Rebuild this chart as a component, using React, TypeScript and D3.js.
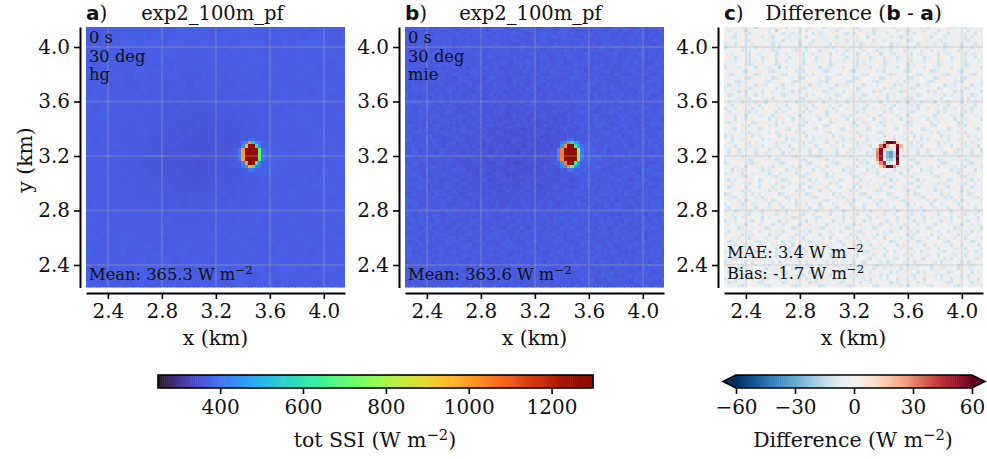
import * as d3 from 'd3';
import { FC, useEffect, useRef } from 'react';

const serif = '"DejaVu Serif", serif';
const sans = '"DejaVu Sans", sans-serif';

const xTicks = [2.4, 2.8, 3.2, 3.6, 4.0];
const yTicks = [2.4, 2.8, 3.2, 3.6, 4.0];
const ssiTicks = [400, 600, 800, 1000, 1200];
const diffTicks = [-60, -30, 0, 30, 60];
const panelLefts = [86, 405, 724];
const cellKm = 0.025;
const xStart = 2.2375;
const yStart = 4.16;

// background of panel a, two cells per character: 340 + 4 * digit (W m-2)
// the dip and the glow are estimated from the picture, the speckle is only approximate
const ssiRows = [
  '667665766667567666756667666576667566766',
  '756667666576667666567667656667665766657',
  '666576766665676656667566676657666766566',
  '675666656766667567665676665667576666756',
  '666766575666766656667566766756665767666',
  '656667666656566576666656676666567666576',
  '766565666576565656656667565676666756667',
  '665676566565665556565666675666576666566',
  '666566556655556465565566566766656676666',
  '576665656555565555655566656657666566765',
  '665666565565555455545655666566676667566',
  '666756555655545454555565566676566766656',
  '656665655555454544445455566656676656667',
  '667566565555544444344455556665667666576',
  '665656555554544343434445556666567656667',
  '666565556544443433334445456666666766566',
  '656655555444434333333344555666665676667',
  '666565555443443332333345677766666566766',
  '665556554444333323233456788876566675666',
  '656565544443433232333456899986566656667',
  '665655554444333323333456788876566666576',
  '666556555444343333334445677765666757666',
  '656565555544433333344445556666667566656',
  '666655655454443434344455556666566676667',
  '566566555554544444445455566566766656766',
  '665665655555454545454555565676656667566',
  '676566556555554554555655666656676566676',
  '656665665655555555565556566766565676656',
  '766566656565655556556566675666766656667',
  '666756565665565656565666656657666567666',
  '656667656656666565666566766666576666756',
  '675666766565666656665676566756667656667',
  '666567666756566766656667666576656766566',
  '756667566676667566765666756667666567676',
  '666756676566656676566675666766576676566',
  '667566567666756666676566676566667566767',
  '756676666576667656667666567667656676656',
  '665667567666566766575676666756667665767',
  '676566676656676566666567576666566766666',
];

// speckle of the difference, hand-typed to match its look and spread (see diffLevels),
// not a cell-by-cell reading of the picture
const diffRows = [
  'ehdfgciefadhgecfidbgfeiedchfgbdeifcghedbfgiecdfehcbgifdehgcdbfieghdcefgbidhef',
  'gcifedbhgeifdcgaehfdigcebfhidegcfbehgidfcehgbdfieghcdebifgdcehfbgicedhgfbecid',
  'dfhcegibdgefhcdiebgfcedhigbfcdehifgdbechgifdbgehcifegdchbeifgdcfhebgidfcehbgf',
  'ifcbehdgfiecgdbhfeicgdehbfgidcehfbgeidhcfgbeidfhgcedbifchegdibfhecgdfiebhcgde',
  'ehgdifcbehfgdicehbgfdecihgbefdcgihedbfgcihefbdgcehifdgbcehfidgecbhifgdecbfihg',
  'cdfbigehcfdiegbhcfidegbhfcdiegfbhcgidefhbcgdifehgbdcifehgbdfiecghbdfeicghdbfe',
  'bigehcdfgbihedcfbgiedchfbigdhecfbgidhcefbgihdecfgbidhecfbgidchefgbdihecfgbide',
  'fehdgbicefhdgibcefhgdbiecfhgbdiefchgbdeifchgdbeifchdgbeifhcdgbeifchdgbiechfdg',
  'gdceifhbgdcfeihbdgcefihbgdcfeihbgdecfihbdgcefibhgdcefihbgdcefhibgdcfeihbgdcef',
  'hifbdegcihfbdgecifhbdegcfihbdegcifhdbegcifhbdgecifhbdegcihfbdegcifhbdgecifbhd',
  'edgcfhibedgcfihbedcgfihbegdcfihbedgcifhbedgcfihbdegcfhibedgcfihbedgcifhbedgcf',
  'cfieghdbcfiehgdbcfiegdhbcfigehdbcfiehgdbfcieghdbcfiehgbdcfieghdbcifehgdbcfieg',
  'bhgdcieffbhgdcieafbhdgcieffhbgdcefibhgdcifebhgdciefbhgcdiefbhgdcifebhgdcieffb',
  'gefihcbdgeifhcbdgefihcdbgeifhcbdegfihcbdgefihcdbgeifhcbdgefihbcdgefihcbdegfih',
  'dcbgfiehdbcgfeihdcbgfiehcdbgifehdcbgfiehdcbfgiehdbcgfiehdcbgfeihdcbgifehdcbgf',
  'ifhedgcbifehdgbcifhedgcbfihedgbcifhdegcbifhedgbcfihedgcbifhdegbcifhedgcbfihed',
  'hegcbdfihegecbdfihgecbdfihegcdbfiehgcbdfihegcbdfihecgbdfiehgcbdfihegcdbfihegc',
  'fbidcghefbidchgefbdicghefbidcgehfbidchgefbidgchefibdcghefbidchgefbidcghefbdic',
  'cgdefihbcgedfihbgcdefhibcgdefihbcgedifhbcgdefihbgcdeifhbcgdefihbcgedfhibcgdef',
  'dehfbicgdehbficgedhfbicgdehfibcgdehbfigcdehfbicgedhfbcigdehfbicgdhefbicgdehfb',
  'ibcgehdfibgcehdfibcgedhfbicgehdfibcghedfibcgehdfbicgehfdibcgehdfibgcehdfibce',
  'gfhdciebgfhdcibegfhdiecbgfhdciebefghdciebgfdhciebgfhdcibegfhdciebgfhdicebgfhd',
  'ecifgbhdecifbghdeicfgbhdecifgbdhecifbghdeciffgbhdeicfgbhdecifgbhedcifgbhdecif',
  'hdbgeifchdbegifchdbgeficdhbgeifchdbegifchdbgefichdbgeifchbdgeifchdbegifchdbge',
  'bgfchdiebfgchdiebgfcdhiebgfchidebegfchdiebfgchdiebgfcdhiebgfchdiebfgchdiebegfc',
  'fcegihdbfcgeihdbfcegidhbfcegihbdfcgeihdbfcegidhbfcegihdbcfegihdbfcgeihdbfcegih',
  'ihdcfebgihcdfebgihdcefbgidhcfebgihdcfbegihcdfebgihdcefbgihdcfebighdcfebgihcdfe',
  'degbhfcidegehbfcidgebhfcidegbfhcidegbhfcdiegbhfcidgebhfcidegbhcfidegbhfcdiegbh',
  'cbfdieghbcfdiegbhcfdiegcbfdiehgbcfdiegbhfcdiegbcfdieghbcfdigebhcfdiegbcfdiehg',
  'gidehcfbgiedhcfbgidehfcbgidehcbfgiedhcfbgidehcfbigdehcfbgiedhcbfgidehcfbgidhe',
  'ehcbgdifehbcgdifehcbgidfehcbgdifhecbgdifehbcgdfiehcbgdifehcbdgifehbcgdifehcbg',
  'fdgihcebfdighcebdfgihcebfdgihecbfdighcebfdgihcbefdgihcebdfgihcebfdighcebfdgih',
  'bechdfgibecdhfgibechdgfibechdfigbecdhfgibechdfgbiechdfgibechfdgibecdhfgibechd',
  'igbfecdhigfbecdhigbfcedhigbfedchigfbecdhigbfecdhgibfecdhigbfcedhigbfecdhigfbe',
  'hcdegfibhcedgfibhcdgefibhcdegfbihcedgfibhcdegfibchdegfibhcdefgibhcedgfibhcdeg',
  'dfibghecdifbghecdfibhgecdfibgehcdifbghecdfibghcedfibghecdfbighecdifbghecdfibg',
  'ecghbidfecghibdfceghbidfecghbdifecghibdfceghbidfecgbhidfecghbidfceghibdfecghb',
  'fbhicdgefbihcdgefbhcidgefbhicgdefbihcdgefhbicdgefbhicdegfbhicdgefbihcdgefbhic',
  'gidcebhfgdicebhfgidecbhfgidcbehfgdicebhfigdcebhfgidcebfhgidcebhfgdicebhfgidce',
  'chefdigbcehfdigbchefidgbchefdibgcehfdigbhcefdigbchefdgibchefdigbcehfdigbchefd',
  'bdgihfecbdighefecbdghifecbdgihefcbdighfecdbgihfecbdgihefcbdgihfecbdighfecbdgi',
  'iefcdgbhiefcgdbhiefdcgbhiefcdgbhefiecdgbhiefcdbghiefcdgbhiefdcgbhiefcgdbhiefc',
  'hgbedcifhgebdcifhgbdecifhgbedcfihgebdcifghbedcifhgbedicfhgbedcifhgebdcifhgbed',
  'cdihfbegcidhfbegcdhifbegcdihfebgcidhfbegdcihfbegcdihbfegcdihfbegcidhfbegcdihf',
  'fehgicbdfhegeicbdfehigcbdfehgibcdfhegicbdefhgicbdfehgcibdfehgicbdfhegicbdfehg',
  'dbfcgehidfbcgehidbcfgehidbfcgheidfbcgehibdfcgehidbfcgeihdbfcgehidfbcgehidbfcg',
  'igchedfbigcehdfbighcedfbigchdefbicgehdfbgichedfbigchefdbigchedfbicgehdfbigche',
  'ebdfihcgedbfihcgebdifhcgebdfhicgedbfihcgbedfihcgebdfichgebdfihcgedbfihcgebdfi',
  'ghfedbicghefdbicghfdebicghfebdicgehfdbicghfedbciighfedbicghfdebicghefdbicghfe',
  'bcigfdehbicgfdehbcgifdehbcigdfehbicgfdehcbigfdehbcigfedhbcigfdehbicgfdehbcigf',
  'hdcbeifghcdbeifghdbceifghdcbifeghcdbeifgdhcbeifghdcbeigfhdcbeifghcdbeifghdcbe',
  'fiehcgbdfeihcgbdfiecgbhdfiehgcbdfeihcgbdifehcgbdfiehcbgdfiehcgbdfeihcgbdfiehc',
  'cgdifbehcdgifbehcgidfbehcgdibfehcdgifbehgcdifbehcgdifebhcgdifbehcdgifbehcgdif',
  'ebhgdcifebghdcifebhdgcifebhgcdifebeghdcifbehgdcifebhgdicfebhgdcifebghdcifebhg',
  'dfgbiehcdgfbiehcdfbgiehcdfgbeihcdgfbiehcfdgbiehcdfgbihecdfgbiehcdgfbiehcdfgbi',
  'ihcefgdbihecfgdbihcfegdbihcegfdbiehcfgdbhicefgdbihcefdgbihcefgdbihecfgdbihcef',
  'gedbhcifgdebhcifgedhbcifgedbchifgdebhcifegdbhcifgedbhicfgedbhcifgdebhcifgedbh',
  'bfichgedbifchgedbfcihgedbfichegdbifchgedfbichgedbfichegdbfichgedbifchgedbfich',
  'hcgdfebihgcdfebihcdgfebihcgdefbihgcdfebichgdfebihcgdfbeihcgdfebihgcdfebihcgdf',
  'diefbchgdeifbchgdifebchgdiefcbhgdeifbchgidefbchgdiefbhcgdiefbchgdeifbchgdiefb',
  'fbhdgiecfhbdgiecfbdhgiecfbhdigecfhbdgiecbfhdgiecfbhdgeicfbhdgiecfhbdgiecfbhdg',
  'cegihbfdcgeihbfdcegihbdfcegibhfdcgeihbfdecgihbfdcegihfbdcegihbfdcgeihbfdcegih',
  'ihdfcegbidhfcegbihfdcegbihdfecgbidhfcegbhidfcegbihdfcgebihdfcegbidhfcegbihdfc',
  'gbcehdifgcbehdifgbecdhifgbcedhifgcbehdifbgcehdifgbcehidfgbcehdifgcbehdifgbceh',
  'defbigchdfebigchdefibgchdefbgichdfebigchedfbigchdefbicghdefbigchdfebigchdefbi',
  'hifgcdebhfigcdebhifcgdebhifgdcebhfigcdebihfgcdebhifgcedbhifgcdebhfigcdebhifgc',
  'cgbdeihfcbgdeihfcgdbeihfcgbdiehfcbgdeihfgcbdeihfcgbdehifcgbdeihfcbgdeihfcgbde',
  'ehdicfgbehidcfgbehidfcgbehdicgfbheidcfgbhedicfgbehdifcgbehdicfgbheidcfgbehdic',
  'fgcbhdeifcgbhdeifgbchdeifgcbdheifcgbhdeigfcbhdeifgcbhedifgcbhdeifcgbhdeifgcbh',
  'bdiegfchbidegfchbdeigfchbdiefgchbidegfchdbiegfchbdiegcfhbdiegfchbidegfchbdieg',
  'icfhdbegicfdhbegifchdbegicfhbdegicfdhbegcifhdbegicfhdebgicfhdbegicfdhbegicfhd',
  'dhegbifcdhgebifcdehgbifcdhegibfcdhgebifchdegbifcdhegbficedhegbifcdhgebifcdheg',
  'gbfcehdigfbcehdigbcfehdigbfcheidgfbcehdibgfcehdigbfcedhigbfcehdigfbcehdigbfce',
  'ehidfcgbeihdfcgbehdifcgbehidcfgbeihdfcgbheeidfcgbehidfgcbehidfcgbeihdfcgbehid',
  'cfgbiedhcgfbiedhcfbgiedhcfgbeidhcgfbiedhfcgbiedhcfgbidehcfgbiedhcgfbiedhcfgbi',
  'hbdceigfhdbceigfhbcdeigfhbdcigefhdbceigfbhdceigfhbdcegifhbdceigfhdbceigfhbdce',
  'fdigcbehfidgcbehfdgicbehfdigbcehfidgcbehdfigcbehfdigcebhfdigcbehfidgcbehfdigc',
];
const diffLevels: Record<string, number> = { a: -16, b: -12, c: -9, d: -6, e: -4, f: -3, g: -2, h: 1, i: 5 };

// lamp in panel a, cols 45-52, rows 33-42, 0 = keep the background
const ssiSpotRows = [
  [0, 0, 0, 395, 395, 0, 0, 0],
  [0, 400, 420, 1010, 520, 420, 400, 0],
  [0, 420, 960, 1290, 1300, 600, 420, 0],
  [400, 980, 1310, 1350, 1350, 1310, 680, 400],
  [405, 1000, 1320, 1350, 1350, 1320, 690, 405],
  [405, 1000, 1320, 1350, 1350, 1320, 690, 405],
  [400, 980, 1310, 1350, 1350, 1310, 680, 400],
  [0, 420, 990, 1320, 1320, 620, 420, 0],
  [0, 400, 420, 970, 640, 420, 400, 0],
  [0, 0, 0, 395, 395, 0, 0, 0],
];
// ring in panel c, cols 45-52, rows 34-41
const diffRingRows = [
  [0, -3, 24, 58, 62, 52, 14, -2],
  [4, 32, 58, 22, 6, 10, 55, 20],
  [25, 54, 12, -10, -14, -6, 62, 8],
  [30, 55, -8, -26, -32, -16, 68, -2],
  [30, 54, -9, -26, -32, -16, 68, -2],
  [25, 52, -5, -18, -22, -10, 62, -5],
  [10, 30, 46, -4, -10, 2, 54, -3],
  [-2, 14, 30, 58, 56, 28, 6, -4],
];

const diffAt = (r: number, c: number) => {
  if (r >= 34 && r <= 41 && c >= 45 && c <= 52) return diffRingRows[r - 34][c - 45];
  const ch = (diffRows[r] || '').charAt(c);
  return diffLevels[ch] ?? -3;
};
const ssiAt = (r: number, c: number) => {
  if (r >= 33 && r <= 42 && c >= 45 && c <= 52 && ssiSpotRows[r - 33][c - 45]) {
    return ssiSpotRows[r - 33][c - 45];
  }
  const row = ssiRows[Math.floor(r / 2)] || ssiRows[0];
  return 340 + 4 * (+row.charAt(Math.floor(c / 2)) || 6);
};

const ssiColor = d3.scaleSequential(d3.interpolateTurbo).domain([250, 1300]).clamp(true);
const diffColor = d3.scaleSequential((t) => d3.interpolateRdBu(1 - t)).domain([-60, 60]).clamp(true);

// text with mixed runs; sup draws a raised run
type Run = { t: string; bold?: boolean; sup?: boolean };
const addText = (parent: any, x: number, y: number, runs: Run[], size: number, anchor = 'start') => {
  const el = parent
    .append('text')
    .attr('x', x)
    .attr('y', y)
    .attr('text-anchor', anchor)
    .attr('font-family', serif)
    .attr('font-size', size)
    .attr('fill', '#111');
  let raised = false;
  runs.forEach((r) => {
    const span = el.append('tspan').text(r.t);
    if (r.bold) span.attr('font-family', sans).attr('font-weight', 'bold');
    if (r.sup) {
      span.attr('font-size', size * 0.72).attr('dy', -size * 0.36).attr('font-family', serif);
      raised = true;
    } else if (raised) {
      span.attr('dy', size * 0.36);
      raised = false;
    }
  });
  return el;
};
const units: Run[] = [{ t: 'W m' }, { t: '\u22122', sup: true }];

const App: FC = () => {
  const ref = useRef<SVGSVGElement>(null);

  useEffect(() => {
    const svg = d3.select(ref.current!);
    svg.selectAll('*').remove();

    const top = 27;
    const bottom = 287.6;
    const y = d3.scaleLinear().domain([yStart, 2.23]).range([25.2, 25.2 + (yStart - 2.23) * 136.25]);

    panelLefts.forEach((left, p) => {
      const x = d3.scaleLinear().domain([2.2375, 4.157]).range([left, left + 259]);
      const clipId = `clip${p}`;
      svg
        .append('clipPath')
        .attr('id', clipId)
        .append('rect')
        .attr('x', left)
        .attr('y', top)
        .attr('width', 259)
        .attr('height', bottom - top);
      const g = svg.append('g').attr('clip-path', `url(#${clipId})`);

      const cells: { r: number; c: number }[] = [];
      for (let r = 0; r < 77; r++) for (let c = 0; c < 77; c++) cells.push({ r, c });
      g.selectAll('rect')
        .data(cells)
        .enter()
        .append('rect')
        .attr('shape-rendering', 'crispEdges')
        .attr('x', (d) => x(xStart + d.c * cellKm))
        .attr('y', (d) => y(yStart - d.r * cellKm))
        .attr('width', x(xStart + cellKm) - x(xStart) + 0.6)
        .attr('height', y(yStart - cellKm) - y(yStart) + 0.6)
        .attr('fill', (d) => {
          if (p === 0) return ssiColor(ssiAt(d.r, d.c));
          if (p === 1) return ssiColor(ssiAt(d.r, d.c) + diffAt(d.r, d.c));
          return diffColor(diffAt(d.r, d.c));
        });

      // grid
      xTicks.forEach((v) => {
        g.append('line')
          .attr('x1', x(v))
          .attr('x2', x(v))
          .attr('y1', top)
          .attr('y2', bottom)
          .attr('stroke', '#b0b0b0')
          .attr('stroke-opacity', 0.24)
          .attr('stroke-width', 2);
      });
      yTicks.forEach((v) => {
        g.append('line')
          .attr('x1', left)
          .attr('x2', left + 259)
          .attr('y1', y(v))
          .attr('y2', y(v))
          .attr('stroke', '#b0b0b0')
          .attr('stroke-opacity', 0.24)
          .attr('stroke-width', 2);
      });

      // axes
      const xAxis = svg
        .append('g')
        .attr('transform', 'translate(0,293)')
        .call(d3.axisBottom(x).tickValues(xTicks).tickFormat(d3.format('.1f') as any).tickSize(6).tickPadding(5).tickSizeOuter(0));
      const yAxis = svg
        .append('g')
        .attr('transform', `translate(${left - 6},0)`)
        .call(d3.axisLeft(y.copy().domain([y.invert(top), y.invert(bottom)]).range([top, bottom])).tickValues(yTicks).tickFormat(d3.format('.1f') as any).tickSize(6).tickPadding(4).tickSizeOuter(0));
      [xAxis, yAxis].forEach((a) => {
        a.selectAll('text').attr('font-family', serif).attr('font-size', 20).attr('fill', '#111');
        a.selectAll('line').attr('stroke', '#000').attr('stroke-width', 1.6);
        a.selectAll('path').attr('stroke', '#000').attr('stroke-width', 2);
      });
      addText(svg, left + 129.5, 345, [{ t: 'x (km)' }], 20.4, 'middle');
    });

    addText(svg, 32, 160, [{ t: 'y (km)' }], 20.4, 'middle').attr('transform', 'rotate(-90 32 160)');

    // titles
    addText(svg, 86, 20, [{ t: 'a', bold: true }, { t: ')' }], 20);
    addText(svg, 212.5, 20, [{ t: 'exp2_100m_pf' }], 19.5, 'middle');
    addText(svg, 405, 20, [{ t: 'b', bold: true }, { t: ')' }], 20);
    addText(svg, 530.5, 20, [{ t: 'exp2_100m_pf' }], 19.5, 'middle');
    addText(svg, 724, 20, [{ t: 'c', bold: true }, { t: ')' }], 20);
    addText(svg, 853.5, 20, [{ t: 'Difference (' }, { t: 'b', bold: true }, { t: ' - ' }, { t: 'a', bold: true }, { t: ')' }], 20.2, 'middle');

    // notes inside the panels
    [['hg', 86, '365.3'], ['mie', 405, '363.6']].forEach(([name, left, mean]) => {
      const l = (left as number) + 3;
      addText(svg, l, 43, [{ t: '0 s' }], 16.3);
      addText(svg, l, 62, [{ t: '30 deg' }], 16.3);
      addText(svg, l, 80, [{ t: name as string }], 16.3);
      addText(svg, l, 280, [{ t: `Mean: ${mean} ` }, ...units], 16.3);
    });
    addText(svg, 727, 258, [{ t: 'MAE: 3.4 ' }, ...units], 16.3);
    addText(svg, 727, 279, [{ t: 'Bias: -1.7 ' }, ...units], 16.3);

    // colorbars
    const barTop = 375;
    const barHeight = 13;
    const ssiX = d3.scaleLinear().domain([250, 1300]).range([158, 593]);
    const ssiBar = svg.append('g');
    ssiBar
      .selectAll('rect')
      .data(d3.range(250, 1300, 5))
      .enter()
      .append('rect')
      .attr('x', (d) => ssiX(d))
      .attr('y', barTop)
      .attr('width', ssiX(255) - ssiX(250) + 0.5)
      .attr('height', barHeight)
      .attr('fill', (d) => ssiColor(d));
    svg
      .append('rect')
      .attr('x', 158)
      .attr('y', barTop)
      .attr('width', 435)
      .attr('height', barHeight)
      .attr('fill', 'none')
      .attr('stroke', '#000')
      .attr('stroke-width', 1.6);
    const ssiAxis = svg
      .append('g')
      .attr('transform', `translate(0,${barTop + barHeight})`)
      .call(d3.axisBottom(ssiX).tickValues(ssiTicks).tickFormat(d3.format('d') as any).tickSize(6).tickPadding(6).tickSizeOuter(0));

    const diffX = d3.scaleLinear().domain([-60, 60]).range([736, 972]);
    const diffBar = svg.append('g');
    diffBar
      .selectAll('rect')
      .data(d3.range(-60, 60, 1))
      .enter()
      .append('rect')
      .attr('x', (d) => diffX(d))
      .attr('y', barTop)
      .attr('width', diffX(1) - diffX(0) + 0.5)
      .attr('height', barHeight)
      .attr('fill', (d) => diffColor(d));
    const tri = d3.line();
    const leftTip: [number, number][] = [[736, barTop], [723, barTop + barHeight / 2], [736, barTop + barHeight]];
    const rightTip: [number, number][] = [[972, barTop], [985, barTop + barHeight / 2], [972, barTop + barHeight]];
    svg.append('path').attr('d', tri(leftTip)! + 'Z').attr('fill', diffColor(-60));
    svg.append('path').attr('d', tri(rightTip)! + 'Z').attr('fill', diffColor(60));
    const outline: [number, number][] = [...leftTip, ...rightTip.slice().reverse()];
    svg
      .append('path')
      .attr('d', tri(outline)! + 'Z')
      .attr('fill', 'none')
      .attr('stroke', '#000')
      .attr('stroke-width', 1.6);
    const diffAxis = svg
      .append('g')
      .attr('transform', `translate(0,${barTop + barHeight})`)
      .call(d3.axisBottom(diffX).tickValues(diffTicks).tickFormat((d: any) => String(d).replace('-', '\u2212')).tickSize(6).tickPadding(6).tickSizeOuter(0));

    [ssiAxis, diffAxis].forEach((a) => {
      a.select('.domain').remove();
      a.selectAll('text').attr('font-family', serif).attr('font-size', 20).attr('fill', '#111');
      a.selectAll('line').attr('stroke', '#000').attr('stroke-width', 1.6);
    });

    addText(svg, 375, 447, [{ t: 'tot SSI (' }, ...units, { t: ')' }], 20.5, 'middle');
    addText(svg, 853, 447, [{ t: 'Difference (' }, ...units, { t: ')' }], 20.5, 'middle');
  }, []);

  return (
    <svg
      ref={ref}
      width={987}
      height={459}
      style={{ position: 'absolute', left: 0, top: 0, background: '#fff' }}
    />
  );
};

export default App;
